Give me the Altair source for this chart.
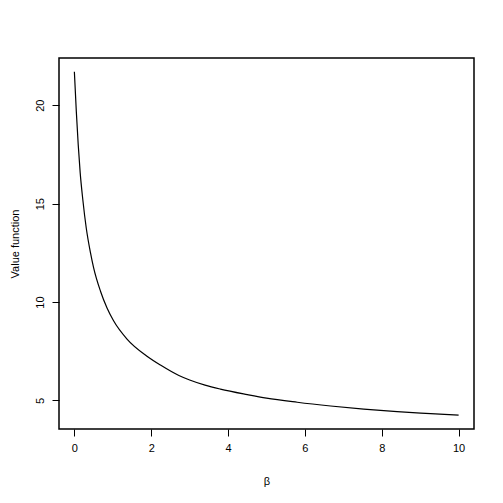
import altair as alt
import pandas as pd

beta = [0.0, 0.05, 0.10, 0.15, 0.22, 0.31, 0.42, 0.50, 0.68, 0.85, 1.02, 1.37, 1.89,
        2.24, 2.72, 3.0, 3.4, 3.8, 4.5, 5.0, 5.8, 6.67, 7.53, 8.4, 9.27, 10.0]
value = [21.7, 19.7, 18.0, 16.6, 15.2, 13.75, 12.5, 11.75, 10.55, 9.7, 9.05, 8.12, 7.25,
         6.80, 6.27, 6.04, 5.78, 5.58, 5.30, 5.12, 4.91, 4.72, 4.56, 4.43, 4.33, 4.25]
x_ticks = [0, 2, 4, 6, 8, 10]
y_ticks = [5, 10, 15, 20]

df = pd.DataFrame({"beta": beta, "value": value})

FONT = "Liberation Sans"

chart = alt.Chart(df).mark_line(color="black", strokeWidth=1.2, interpolate="monotone").encode(
    x=alt.X("beta:Q",
            scale=alt.Scale(domain=[-0.4, 10.4], nice=False, zero=False),
            axis=alt.Axis(values=x_ticks, title="β", grid=False, domain=False,
                          tickColor="black", tickSize=7, tickWidth=1,
                          labelFont=FONT, labelFontSize=11, labelColor="black",
                          labelBaseline="middle", labelPadding=12, labelAngle=0,
                          titleFont=FONT, titleFontSize=11, titleFontWeight="normal",
                          titleColor="black", titleY=52, titleBaseline="middle")),
    y=alt.Y("value:Q",
            scale=alt.Scale(domain=[3.55, 22.4], nice=False, zero=False),
            axis=alt.Axis(values=y_ticks, title="Value function", grid=False, domain=False,
                          tickColor="black", tickSize=7, tickWidth=1,
                          labelFont=FONT, labelFontSize=11, labelColor="black",
                          labelAngle=-90, labelAlign="center", labelBaseline="middle",
                          labelPadding=12,
                          titleFont=FONT, titleFontSize=11, titleFontWeight="normal",
                          titleColor="black", titleAngle=-90, titleX=-44,
                          titleBaseline="middle")),
).properties(
    width=415, height=371,
    autosize=alt.AutoSizeParams(type="none"),
    padding={"left": 51, "top": 50, "right": 20, "bottom": 60},
).configure(
    background="white",
    view=alt.ViewConfig(stroke="black", strokeWidth=1.5),
)

chart.save("out.html", embed_options={"renderer": "svg", "actions": False})
